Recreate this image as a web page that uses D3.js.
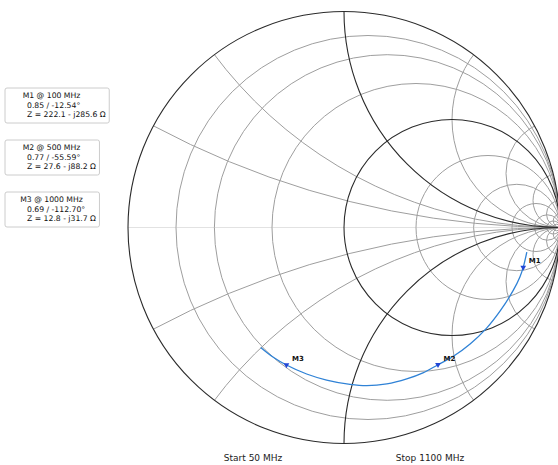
<!DOCTYPE html>
<html>
<head>
<meta charset="utf-8">
<script src="https://cdn.jsdelivr.net/npm/d3@7"></script>
<style>
  html, body { margin: 0; padding: 0; background: #fff; }
  svg { display: block; font-family: "DejaVu Sans", sans-serif; }
</style>
</head>
<body>
<svg id="chart" width="558" height="465"></svg>
<script>
// ---- data ----
const freqMHz = [50, 100, 130, 170, 240, 310, 380, 445, 500, 550, 600, 665, 725, 780, 855, 925, 1000, 1050, 1100];
const gammaMag = [0.854, 0.85, 0.846, 0.836, 0.82, 0.808, 0.795, 0.782, 0.77, 0.766, 0.759, 0.751, 0.740, 0.727, 0.711, 0.700, 0.69, 0.684, 0.676];
const gammaPhaseDeg = [-7.7, -12.54, -15.6, -20.3, -27.9, -35.2, -42.6, -49.8, -55.59, -61.5, -67.5, -74.7, -81.8, -87.8, -96.5, -104.3, -112.7, -118.6, -124.8];

const markerNames = ["M1", "M2", "M3"];
const markerFreqMHz = [100, 500, 1000];
const markerMag = [0.85, 0.77, 0.69];
const markerPhaseDeg = [-12.54, -55.59, -112.70];
const markerPolarText = ["0.85 / -12.54°", "0.77 / -55.59°", "0.69 / -112.70°"];
const markerZText = ["Z = 222.1 - j285.6 Ω", "Z = 27.6 - j88.2 Ω", "Z = 12.8 - j31.7 Ω"];

const resistanceValues = [0.125, 0.25, 0.5, 2, 4, 8, 16, 32, 64];
const reactanceValues = [0.25, 0.5, 2, 4, 8, 16, 32];
const boldCircleR = [1];
const boldArcX = [1];

const startLabel = "Start 50 MHz";
const stopLabel = "Stop 1100 MHz";

// ---- layout ----
const cx = 344, cy = 227.5, R = 216;
const svg = d3.select("#chart");
const sx = d3.scaleLinear().domain([-1, 1]).range([cx - R, cx + R]);
const sy = d3.scaleLinear().domain([-1, 1]).range([cy + R, cy - R]);
const sr = d3.scaleLinear().domain([0, 1]).range([0, R]);

svg.append("defs").append("clipPath").attr("id", "unit")
  .append("circle").attr("cx", sx(0)).attr("cy", sy(0)).attr("r", sr(1));

const grid = svg.append("g").attr("clip-path", "url(#unit)");

// real axis
grid.append("line")
  .attr("x1", sx(-1)).attr("x2", sx(1)).attr("y1", sy(0)).attr("y2", sy(0))
  .attr("stroke", "#e2e2e2").attr("stroke-width", 1);

// resistance circles
grid.selectAll("circle.r").data(resistanceValues).join("circle")
  .attr("class", "r")
  .attr("cx", r => sx(r / (1 + r))).attr("cy", sy(0))
  .attr("r", r => sr(1 / (1 + r)))
  .attr("fill", "none").attr("stroke", "#9e9e9e").attr("stroke-width", 1);

// reactance arcs (both signs)
const xs = reactanceValues.flatMap(v => [v, -v]);
grid.selectAll("circle.x").data(xs).join("circle")
  .attr("class", "x")
  .attr("cx", sx(1)).attr("cy", x => sy(1 / x))
  .attr("r", x => sr(1 / Math.abs(x)))
  .attr("fill", "none").attr("stroke", "#9e9e9e").attr("stroke-width", 1);

// bold r=1 circle and x=±1 arcs
grid.selectAll("circle.rb").data(boldCircleR).join("circle")
  .attr("class", "rb")
  .attr("cx", r => sx(r / (1 + r))).attr("cy", sy(0))
  .attr("r", r => sr(1 / (1 + r)))
  .attr("fill", "none").attr("stroke", "#2b2b2b").attr("stroke-width", 1.1);
grid.selectAll("circle.xb").data(boldArcX.flatMap(v => [v, -v])).join("circle")
  .attr("class", "xb")
  .attr("cx", sx(1)).attr("cy", x => sy(1 / x))
  .attr("r", x => sr(1 / Math.abs(x)))
  .attr("fill", "none").attr("stroke", "#2b2b2b").attr("stroke-width", 1.1);

// outer circle
svg.append("circle").attr("cx", sx(0)).attr("cy", sy(0)).attr("r", sr(1))
  .attr("fill", "none").attr("stroke", "#2b2b2b").attr("stroke-width", 1.1);

// ---- trace ----
const toXY = (m, pDeg) => {
  const a = pDeg * Math.PI / 180;
  return [m * Math.cos(a), m * Math.sin(a)];
};
const pts = freqMHz.map((f, i) => toXY(gammaMag[i], gammaPhaseDeg[i]));
const line = d3.line().x(d => sx(d[0])).y(d => sy(d[1])).curve(d3.curveCatmullRom.alpha(0.5));
svg.append("path").datum(pts).attr("d", line)
  .attr("fill", "none").attr("stroke", "#2f82d6").attr("stroke-width", 1.3);

// ---- markers ----
const mpts = markerNames.map((n, i) => ({ name: n, p: toXY(markerMag[i], markerPhaseDeg[i]) }));
const tri = d3.symbol().type(d3.symbolTriangle).size(14);
const mg = svg.append("g");
mg.selectAll("path").data(mpts).join("path")
  .attr("d", tri)
  .attr("transform", d => `translate(${sx(d.p[0])},${sy(d.p[1])}) rotate(180)`)
  .attr("fill", "#2146d6");
mg.selectAll("text").data(mpts).join("text")
  .attr("x", d => sx(d.p[0]) + 5.5)
  .attr("y", d => sy(d.p[1]) - 4)
  .attr("font-size", 7).attr("font-weight", "bold").attr("fill", "#111")
  .text(d => d.name);

// ---- info boxes ----
const boxTops = [88, 140, 192];
const fs = 7.7;
markerNames.forEach((n, i) => {
  const g = svg.append("g");
  const rect = g.append("rect");
  const t1 = g.append("text").attr("x", 51.5).attr("y", boxTops[i] + 9.5)
    .attr("text-anchor", "middle").attr("font-size", fs).attr("fill", "#111")
    .text(`${n} @ ${markerFreqMHz[i]} MHz`);
  const t2 = g.append("text").attr("x", 27).attr("y", boxTops[i] + 20.3)
    .attr("font-size", fs).attr("fill", "#111").text(markerPolarText[i]);
  const t3 = g.append("text").attr("x", 27).attr("y", boxTops[i] + 28.5)
    .attr("font-size", fs).attr("fill", "#111").text(markerZText[i]);
  const maxRight = Math.max(
    27 + t2.node().getComputedTextLength(),
    27 + t3.node().getComputedTextLength(),
    51.5 + t1.node().getComputedTextLength() / 2);
  rect.attr("x", 5).attr("y", boxTops[i]).attr("width", maxRight + 3.5 - 5).attr("height", 35)
    .attr("rx", 2).attr("fill", "#fff").attr("stroke", "#cccccc").attr("stroke-width", 1);
});

// ---- bottom labels ----
svg.append("text").attr("x", 253).attr("y", 461).attr("text-anchor", "middle")
  .attr("font-size", 9).attr("fill", "#222").text(startLabel);
svg.append("text").attr("x", 430).attr("y", 461).attr("text-anchor", "middle")
  .attr("font-size", 9).attr("fill", "#222").text(stopLabel);
</script>
</body>
</html>
